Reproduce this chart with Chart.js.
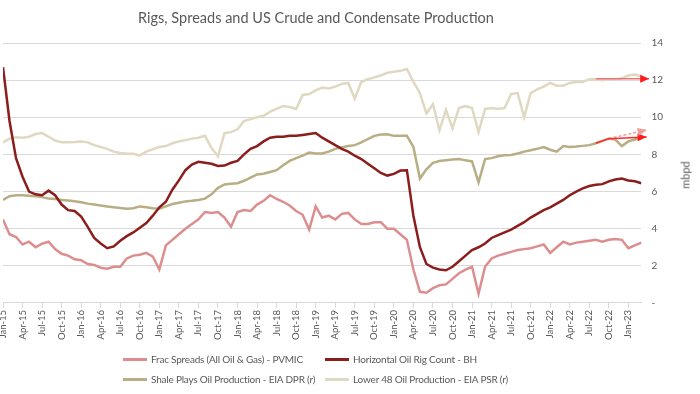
<!DOCTYPE html>
<html>
<head>
<meta charset="utf-8">
<script src="https://cdn.jsdelivr.net/npm/chart.js@4/dist/chart.umd.min.js"></script>
<style>
  html, body { margin: 0; padding: 0; background: #ffffff; }
  #wrap { position: relative; width: 700px; height: 394px; font-family: Lato, "Open Sans", sans-serif; color: #595959; }
  #c { position: absolute; left: 0; top: 0; }
  #title { position: absolute; left: 0; width: 632px; top: 9px; text-align: center; font-size: 14.5px; color: #595959; white-space: nowrap; }
  #ytitle { position: absolute; left: 685px; top: 175px; transform: translate(-50%, -50%) rotate(-90deg); font-size: 11px; color: #595959; white-space: nowrap; }
  .lg { position: absolute; font-size: 10px; letter-spacing: -0.2px; color: #595959; white-space: nowrap; line-height: 14px; }
  .lg .sw { display: inline-block; width: 24px; height: 3px; vertical-align: middle; margin-right: 4px; position: relative; top: -1px; }
</style>
</head>
<body>
<div id="wrap">
  <canvas id="c" width="700" height="394"></canvas>
  <div id="title">Rigs, Spreads and US Crude and Condensate Production</div>
  <div id="ytitle">mbpd</div>
  <div id="legend"></div>
</div>
<script>
// ---- Data (monthly, Jan-15 .. Mar-23) ----
const monthNames = ['Jan','Feb','Mar','Apr','May','Jun','Jul','Aug','Sep','Oct','Nov','Dec'];
const months = [];
for (let i = 0; i < 99; i++) {
  const y = 15 + Math.floor(i / 12);
  months.push(monthNames[i % 12] + '-' + y);
}
const tickLabels = months.filter((m, i) => i % 3 === 0);

const fracSpreads = [
  4.5, 3.7, 3.55, 3.15, 3.3, 3.0, 3.2, 3.3, 2.9, 2.65, 2.55, 2.35,
  2.3, 2.1, 2.05, 1.9, 1.85, 1.95, 1.95, 2.4, 2.55, 2.6, 2.7, 2.5,
  1.8, 3.1, 3.4, 3.7, 4.0, 4.25, 4.5, 4.9, 4.85, 4.9, 4.6, 4.1,
  4.9, 5.0, 4.95, 5.3, 5.5, 5.8, 5.6, 5.45, 5.25, 4.95, 4.75, 3.95,
  5.2, 4.6, 4.7, 4.5, 4.8, 4.85, 4.5, 4.25, 4.25, 4.35, 4.35, 4.0,
  4.0, 3.7, 3.4, 1.8, 0.6, 0.55, 0.8, 0.95, 1.0, 1.3, 1.6, 1.8,
  1.95, 0.5, 1.95, 2.4, 2.55, 2.65, 2.75, 2.85, 2.9, 2.95, 3.05, 3.15,
  2.7, 3.0, 3.3, 3.15, 3.25, 3.3, 3.35, 3.4, 3.3, 3.4, 3.45, 3.4,
  2.95, 3.1, 3.25
];
const rigCount = [
  12.7, 9.8, 7.8, 6.8, 6.0, 5.85, 5.8, 6.05, 5.8, 5.3, 5.0, 4.95,
  4.65, 4.1, 3.5, 3.2, 2.95, 3.05, 3.35, 3.6, 3.8, 4.05, 4.3, 4.7,
  5.15, 5.45, 6.1, 6.6, 7.15, 7.45, 7.6, 7.55, 7.5, 7.38, 7.4, 7.55,
  7.65, 8.0, 8.3, 8.45, 8.7, 8.9, 8.95, 8.95, 9.0, 9.0, 9.05, 9.1,
  9.15, 8.9, 8.7, 8.5, 8.3, 8.15, 7.93, 7.75, 7.5, 7.25, 7.0, 6.86,
  6.95, 7.13, 7.15, 4.7, 3.0, 2.1, 1.9, 1.8, 1.76, 1.95, 2.25, 2.55,
  2.85, 3.0, 3.2, 3.5, 3.65, 3.8, 3.95, 4.15, 4.35, 4.6, 4.8, 5.0,
  5.15, 5.35, 5.55, 5.8, 6.0, 6.17, 6.3, 6.37, 6.4, 6.55, 6.65, 6.7,
  6.6, 6.55, 6.45
];
const shaleProd = [
  5.55, 5.75, 5.8, 5.8, 5.78, 5.75, 5.7, 5.62, 5.6, 5.55, 5.52, 5.48,
  5.42, 5.35, 5.3, 5.25, 5.2, 5.16, 5.12, 5.08, 5.1, 5.2, 5.15, 5.1,
  5.07, 5.2, 5.33, 5.4, 5.47, 5.5, 5.55, 5.62, 5.85, 6.2, 6.38, 6.42,
  6.45, 6.58, 6.75, 6.92, 6.96, 7.05, 7.15, 7.42, 7.65, 7.8, 7.93, 8.1,
  8.05, 8.05, 8.15, 8.3, 8.38, 8.45, 8.5, 8.65, 8.83, 9.0, 9.07, 9.08,
  9.0, 9.0, 9.0, 8.4, 6.7, 7.2, 7.55, 7.64, 7.68, 7.72, 7.75, 7.68,
  7.62, 6.5, 7.75, 7.8, 7.9, 7.95, 7.97, 8.05, 8.15, 8.22, 8.3, 8.4,
  8.25, 8.15, 8.45, 8.4, 8.42, 8.46, 8.5, 8.6, 8.73, 8.85, 8.8, 8.45,
  8.7, 8.8, 8.9
];
const lower48Prod = [
  8.65, 8.85, 8.92, 8.9, 8.95, 9.1, 9.15, 8.95, 8.75, 8.65, 8.65, 8.67,
  8.7, 8.65, 8.5, 8.4, 8.3, 8.15, 8.08, 8.04, 8.04, 7.95, 8.15, 8.28,
  8.4, 8.45, 8.6, 8.7, 8.77, 8.85, 8.9, 9.0, 8.35, 7.9, 9.15, 9.2,
  9.35, 9.8, 9.9, 10.0, 10.08, 10.3, 10.45, 10.6, 10.55, 10.45, 11.2, 11.25,
  11.45, 11.6, 11.55, 11.65, 11.8, 11.85, 11.0, 11.9, 12.05, 12.15, 12.25, 12.4,
  12.45, 12.5, 12.6, 11.9, 11.3, 10.2, 10.7, 9.3, 10.4, 9.4, 10.5, 10.6,
  10.5, 9.2, 10.45, 10.5, 10.45, 10.5, 11.25, 11.3, 10.0, 11.3, 11.5, 11.65,
  11.85, 11.7, 11.7, 11.85, 11.9, 11.9, 12.05, 12.05, 12.0, 12.05, 12.05, 12.1,
  12.25, 12.3, 12.2
];
// Annotation arrows (month index, value)
const arrowLower48X = [91, 99.2];
const arrowLower48Y = [12.08, 12.08];
const arrowShaleX = [91, 93, 98.8];
const arrowShaleY = [8.6, 8.85, 8.94];
const arrowShaleDashX = [93, 98.8];
const arrowShaleDashY = [8.85, 9.32];

const seriesNames = [
  'Frac Spreads (All Oil & Gas) - PVMIC',
  'Horizontal Oil Rig Count - BH',
  'Shale Plays Oil Production - EIA DPR (r)',
  'Lower 48 Oil Production - EIA PSR (r)'
];
const seriesColors = ['#dc8e8e', '#8c1d1d', '#b9ad84', '#e0d8c1'];

const toXY = (vals) => vals.map((v, i) => ({ x: i, y: v }));
const pairXY = (xs, ys) => xs.map((x, i) => ({ x: x, y: ys[i] }));

const lineDs = (label, vals, color) => ({
  label, data: toXY(vals), borderColor: color, backgroundColor: color,
  borderWidth: 2.5, pointRadius: 0, tension: 0, fill: false
});
const arrowDs = (xs, ys, color, headColor, dash) => ({
  label: '', data: pairXY(xs, ys), borderColor: color, backgroundColor: color,
  borderWidth: 1.5, pointRadius: 0, tension: 0, fill: false, clip: false,
  borderDash: dash || [], arrowHead: headColor, order: -1
});

const arrowPlugin = {
  id: 'arrowHeads',
  afterDatasetsDraw(chart) {
    const ctx = chart.ctx;
    chart.data.datasets.forEach((ds, i) => {
      if (!ds.arrowHead) return;
      const pts = chart.getDatasetMeta(i).data;
      const p1 = pts[pts.length - 2], p2 = pts[pts.length - 1];
      const ang = Math.atan2(p2.y - p1.y, p2.x - p1.x);
      const L = 9, W = 4;
      ctx.save();
      ctx.translate(p2.x, p2.y);
      ctx.rotate(ang);
      ctx.beginPath();
      ctx.moveTo(0, 0);
      ctx.lineTo(-L, -W);
      ctx.lineTo(-L, W);
      ctx.closePath();
      ctx.fillStyle = ds.arrowHead;
      ctx.fill();
      ctx.restore();
    });
  }
};

const chart = new Chart(document.getElementById('c'), {
  type: 'line',
  data: {
    datasets: [
      lineDs(seriesNames[0], fracSpreads, seriesColors[0]),
      lineDs(seriesNames[1], rigCount, seriesColors[1]),
      lineDs(seriesNames[2], shaleProd, seriesColors[2]),
      lineDs(seriesNames[3], lower48Prod, seriesColors[3]),
      arrowDs(arrowLower48X, arrowLower48Y, '#f07474', '#ff1a1a'),
      arrowDs(arrowShaleX, arrowShaleY, '#ff2a2a', '#ff1a1a'),
      arrowDs(arrowShaleDashX, arrowShaleDashY, '#f49a9a', '#f49a9a', [3, 2])
    ]
  },
  options: {
    responsive: false,
    animation: false,
    devicePixelRatio: 1,
    layout: { padding: { top: 43, right: 27, bottom: 52, left: 3 } },
    plugins: {
      legend: { display: false },
      title: { display: false },
      tooltip: { enabled: false }
    },
    scales: {
      x: {
        type: 'linear',
        min: 0, max: 98,
        grid: { drawOnChartArea: false, drawTicks: true, tickLength: 5, color: '#d9d9d9' },
        border: { display: true, color: '#d9d9d9', width: 1 },
        ticks: {
          stepSize: 3, autoSkip: false, includeBounds: false,
          maxRotation: 90, minRotation: 90, padding: 2,
          color: '#595959', font: { family: 'Lato', size: 9.5 },
          callback: (v) => (v % 3 === 0 ? tickLabels[v / 3] : null)
        }
      },
      y: {
        position: 'right',
        min: 0, max: 14,
        grid: { color: '#d9d9d9', drawTicks: false },
        border: { display: false },
        ticks: {
          stepSize: 2, padding: 10,
          color: '#595959', font: { family: 'Lato', size: 10 },
          callback: (v) => (v === 0 ? '-' : v)
        }
      }
    }
  },
  plugins: [arrowPlugin]
});

// HTML legend built from chart datasets
const legendPos = [
  { left: 123, top: 352 }, { left: 325, top: 352 },
  { left: 123, top: 372 }, { left: 325, top: 372 }
];
const lg = document.getElementById('legend');
chart.data.datasets.slice(0, 4).forEach((ds, i) => {
  const d = document.createElement('div');
  d.className = 'lg';
  d.style.left = legendPos[i].left + 'px';
  d.style.top = legendPos[i].top + 'px';
  const sw = document.createElement('span');
  sw.className = 'sw';
  sw.style.background = ds.borderColor;
  d.appendChild(sw);
  d.appendChild(document.createTextNode(ds.label));
  lg.appendChild(d);
});
</script>
</body>
</html>
